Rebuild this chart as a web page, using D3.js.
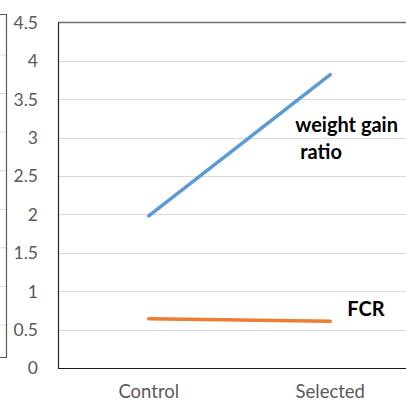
<!DOCTYPE html>
<html>
<head>
<meta charset="utf-8">
<script src="https://cdn.jsdelivr.net/npm/d3@7"></script>
<style>
  body { margin: 0; background: #fff; }
  svg { display: block; font-family: Lato, "Open Sans", sans-serif; }
</style>
</head>
<body>
<svg id="chart" width="406" height="402"></svg>
<script>
// values
const groups = ['Control', 'Selected']
const weightGain = [1.98, 3.82]
const fcr = [0.64, 0.61]
const yTicks = [0, 0.5, 1, 1.5, 2, 2.5, 3, 3.5, 4, 4.5]
const seriesNames = ['weight gain', 'FCR']

const svg = d3.select('#chart')

// plot area runs past the right edge of the picture (cropped)
const x = d3.scalePoint().domain(groups).range([58, 421]).padding(0.5)
const y = d3.scaleLinear().domain([0, 4.5]).range([368, 22.5])

// bit of the neighbouring chart on the left edge
const ghost = d3.scaleLinear().domain([0, 7]).range([325, 55])
svg.append('g').selectAll('line')
  .data(d3.range(8))
  .join('line')
  .attr('x1', 0).attr('x2', 6)
  .attr('y1', d => ghost(d)).attr('y2', d => ghost(d))
  .attr('stroke', '#d9d9d9')
svg.append('path')
  .attr('d', 'M0,14.5H6.5V357.5H0')
  .attr('fill', 'none')
  .attr('stroke', '#595959')
  .attr('stroke-width', 1.2)

// gridlines
svg.append('g').selectAll('line')
  .data(yTicks.slice(1, -1))
  .join('line')
  .attr('x1', 58).attr('x2', 406)
  .attr('y1', d => Math.round(y(d)) + 0.5)
  .attr('y2', d => Math.round(y(d)) + 0.5)
  .attr('stroke', '#d9d9d9')
  .attr('stroke-width', 1.2)

// frame
svg.append('line')
  .attr('x1', 58).attr('x2', 406)
  .attr('y1', y(4.5)).attr('y2', y(4.5))
  .attr('stroke', '#6f6f6f').attr('stroke-width', 1.6)
svg.append('line')
  .attr('x1', 58.5).attr('x2', 58.5)
  .attr('y1', y(4.5)).attr('y2', y(0))
  .attr('stroke', '#262626').attr('stroke-width', 1.2)
svg.append('line')
  .attr('x1', 58).attr('x2', 406)
  .attr('y1', y(0) + 0.5).attr('y2', y(0) + 0.5)
  .attr('stroke', '#1a1a1a').attr('stroke-width', 1.2)

// y tick labels
svg.append('g').selectAll('text')
  .data(yTicks)
  .join('text')
  .attr('x', 38)
  .attr('y', d => y(d))
  .attr('dy', '0.36em')
  .attr('text-anchor', 'end')
  .attr('fill', '#595959')
  .attr('font-size', 17.5)
  .text(d => d)

// x labels
svg.append('g').selectAll('text')
  .data(groups)
  .join('text')
  .attr('x', d => x(d))
  .attr('y', 398)
  .attr('text-anchor', 'middle')
  .attr('fill', '#595959')
  .attr('font-size', 18.5)
  .text(d => d)

// series lines
const line = d3.line().x((d, i) => x(groups[i])).y(d => y(d))
svg.append('path')
  .datum(weightGain)
  .attr('d', line)
  .attr('fill', 'none')
  .attr('stroke', '#5b9bd5')
  .attr('stroke-width', 3.5)
  .attr('stroke-linecap', 'round')
svg.append('path')
  .datum(fcr)
  .attr('d', line)
  .attr('fill', 'none')
  .attr('stroke', '#ed7d31')
  .attr('stroke-width', 3.5)
  .attr('stroke-linecap', 'round')

// series labels, placed off the last point
const last = groups[groups.length - 1]
const wg = svg.append('text')
  .attr('x', x(last) - 35)
  .attr('y', y(weightGain[1]) + 57)
  .attr('font-weight', 'bold')
  .attr('font-size', 20)
  .attr('fill', '#000')
wg.append('tspan').text(seriesNames[0])
wg.append('tspan').attr('x', x(last) - 30).attr('dy', 27).text('ratio')

svg.append('text')
  .attr('x', x(last) + 17)
  .attr('y', y(fcr[1]) - 5)
  .attr('font-weight', 'bold')
  .attr('font-size', 20)
  .attr('fill', '#000')
  .text(seriesNames[1])
</script>
</body>
</html>
